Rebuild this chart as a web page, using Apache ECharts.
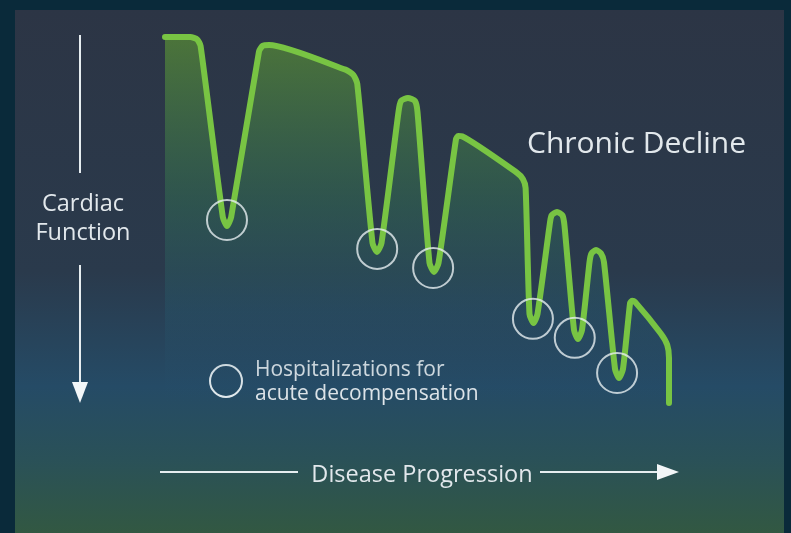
<!DOCTYPE html>
<html>
<head>
<meta charset="utf-8">
<title>Chronic Decline</title>
<script src="https://cdn.jsdelivr.net/npm/echarts@6.0.0/dist/echarts.min.js"></script>
<style>
  html, body { margin: 0; padding: 0; background: #0a2a3a; }
  #chart { width: 791px; height: 533px; }
</style>
</head>
<body>
<div id="chart"></div>
<script>
// Disease progression (0–100) against cardiac function (0–100).
// Each peak, trough and shoulder is given by a few close points so the
// curve keeps straight flanks with rounded turns.
const progression = [
  0, 5.04, 6.39, 7.06,
  11.47, 12.30, 13.13,
  18.65, 19.37, 20.67,
  35.81, 37.40, 38.15,
  41.17, 42.06, 42.96,
  46.33, 46.83, 48.21, 49.60, 50.10,
  52.48, 53.37, 54.27,
  57.74, 58.19, 58.93,
  69.76, 71.03, 71.55,
  72.32, 73.12, 73.91,
  76.29, 76.69, 77.78, 78.87, 79.27,
  81.15, 81.94, 82.74,
  84.23, 84.62, 85.52, 86.51, 87.10,
  89.29, 90.08, 90.87,
  92.28, 92.66, 93.21,
  98.33, 99.64, 100, 100
];
const cardiacFunction = [
  100, 100, 99.32, 97.57,
  50.82, 48.36, 50.82,
  96.07, 97.57, 97.81,
  91.07, 89.59, 87.19,
  43.72, 41.26, 43.72,
  79.51, 82.51, 83.33, 82.51, 79.51,
  38.25, 35.79, 38.25,
  72.13, 72.95, 72.87,
  62.98, 61.15, 58.74,
  24.32, 21.86, 24.32,
  48.36, 51.23, 52.19, 51.23, 48.36,
  19.95, 17.49, 19.95,
  38.52, 40.85, 41.80, 40.85, 38.52,
  9.29, 6.83, 9.29,
  27.35, 27.92, 27.70,
  19.07, 15.90, 12.30, 0
];

// Hospitalizations for acute decompensation (circled troughs)
const hospX = [12.3, 42.1, 53.2, 73.0, 81.3, 89.7];
const hospY = [50.0, 42.1, 36.9, 23.0, 17.8, 8.2];

const titleText = 'Chronic Decline';
const yName = ['Cardiac', 'Function'];
const xName = 'Disease Progression';
const legendText = ['Hospitalizations for', 'acute decompensation'];

const curve = progression.map((x, i) => [x, cardiacFunction[i]]);
const hosp = hospX.map((x, i) => [x, hospY[i]]);

const FONT = '"Open Sans", "Noto Sans", sans-serif';
const TXT = '#e2e8ec';
const STROKE = '#e6edf0';

const chart = echarts.init(document.getElementById('chart'), null, { renderer: 'canvas' });

chart.setOption({
  animation: false,
  backgroundColor: '#0a2a3a',
  title: {
    text: titleText,
    left: 522,
    top: 124,
    textStyle: { color: TXT, fontFamily: FONT, fontSize: 30, fontWeight: 'normal' }
  },
  grid: { left: 165, top: 37, width: 504, height: 366 },
  xAxis: { type: 'value', min: 0, max: 100, show: false },
  yAxis: { type: 'value', min: 0, max: 100, show: false },
  graphic: {
    elements: [
      // panel background
      {
        type: 'rect', z: -10, silent: true,
        shape: { x: 15, y: 10, width: 769, height: 523 },
        style: {
          fill: {
            type: 'linear', x: 0, y: 0, x2: 0, y2: 1,
            colorStops: [
              { offset: 0, color: '#2c3545' },
              { offset: 0.5, color: '#2a3a4c' },
              { offset: 0.72, color: '#254b66' },
              { offset: 0.86, color: '#2a5158' },
              { offset: 1, color: '#325842' }
            ]
          }
        }
      },
      // vertical axis arrow
      { type: 'line', silent: true, shape: { x1: 80, y1: 35, x2: 80, y2: 173 }, style: { stroke: STROKE, lineWidth: 2 } },
      { type: 'line', silent: true, shape: { x1: 80, y1: 265, x2: 80, y2: 386 }, style: { stroke: STROKE, lineWidth: 2 } },
      { type: 'polygon', silent: true, shape: { points: [[72, 382], [88, 382], [80, 403]] }, style: { fill: '#f2f6f8' } },
      {
        type: 'text', silent: true, x: 83, y: 219,
        style: {
          text: yName.join('\n'), fill: TXT, font: '23.5px ' + FONT,
          align: 'center', verticalAlign: 'middle', lineHeight: 29
        }
      },
      // horizontal axis arrow
      { type: 'line', silent: true, shape: { x1: 160, y1: 472, x2: 298, y2: 472 }, style: { stroke: STROKE, lineWidth: 2 } },
      { type: 'line', silent: true, shape: { x1: 540, y1: 472, x2: 662, y2: 472 }, style: { stroke: STROKE, lineWidth: 2 } },
      { type: 'polygon', silent: true, shape: { points: [[657, 464], [657, 480], [679, 472]] }, style: { fill: '#f2f6f8' } },
      {
        type: 'text', silent: true, x: 422, y: 475,
        style: { text: xName, fill: TXT, font: '23.5px ' + FONT, align: 'center', verticalAlign: 'middle' }
      },
      // key for the circled troughs
      { type: 'circle', silent: true, shape: { cx: 226, cy: 381, r: 16 }, style: { fill: 'none', stroke: STROKE, lineWidth: 2 } },
      {
        type: 'text', silent: true, x: 255, y: 382,
        style: {
          text: legendText.join('\n'), fill: TXT, font: '21px ' + FONT,
          align: 'left', verticalAlign: 'middle', lineHeight: 24
        }
      }
    ]
  },
  series: [
    {
      type: 'line',
      data: curve,
      smooth: 0.2,
      clip: false,
      showSymbol: false,
      z: 3,
      lineStyle: { color: '#78c443', width: 6, cap: 'round', join: 'round' },
      areaStyle: {
        color: {
          type: 'linear', x: 0, y: 0, x2: 0, y2: 1,
          colorStops: [
            { offset: 0, color: 'rgba(92,148,52,0.95)' },
            { offset: 0.45, color: 'rgba(50,112,82,0.7)' },
            { offset: 0.75, color: 'rgba(38,92,112,0.45)' },
            { offset: 1, color: 'rgba(38,80,110,0)' }
          ]
        }
      }
    },
    {
      type: 'scatter',
      data: hosp,
      symbol: 'circle',
      symbolSize: 40,
      z: 4,
      itemStyle: { color: 'rgba(0,0,0,0)', borderColor: STROKE, borderWidth: 2 }
    }
  ]
});
</script>
</body>
</html>
